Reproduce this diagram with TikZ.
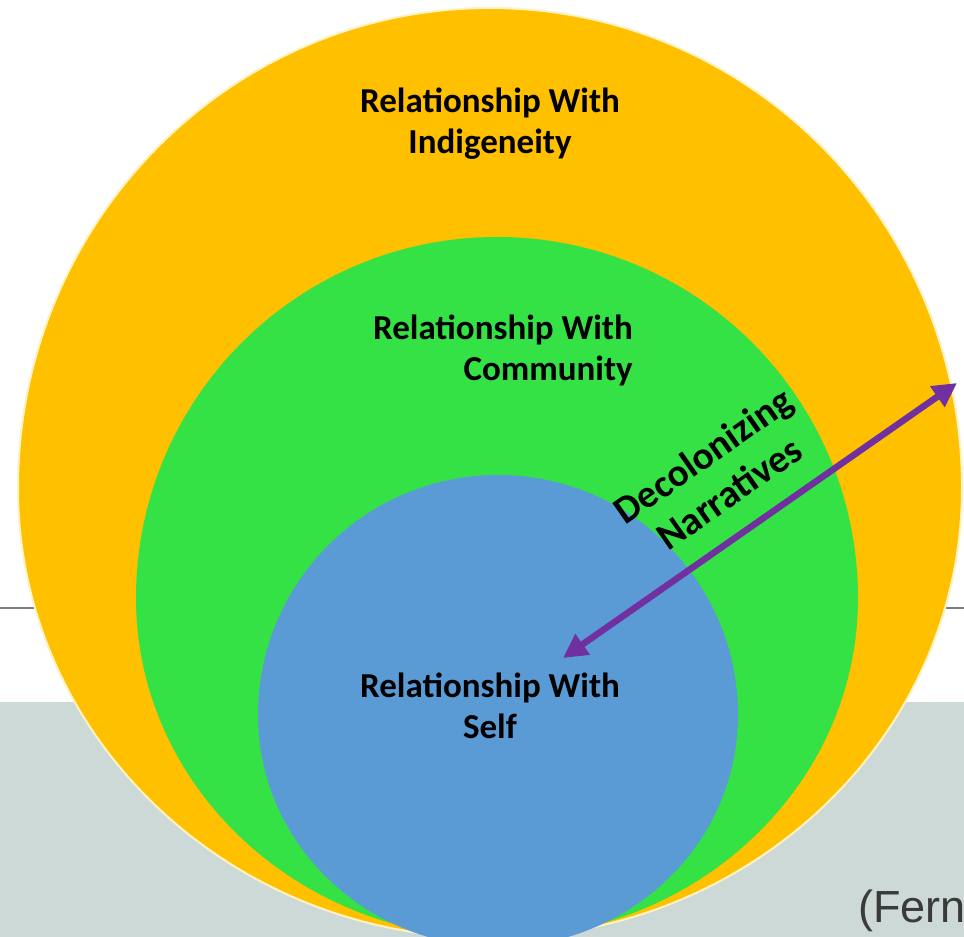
\documentclass[tikz,border=0pt]{standalone}
\usepackage{fontspec}
\setmainfont{Carlito}
\newfontfamily\citefont{Liberation Sans}
\usetikzlibrary{arrows.meta}
\definecolor{ringorange}{HTML}{FFC000}
\definecolor{ringgreen}{HTML}{35E245}
\definecolor{ringblue}{HTML}{5B9BD5}
\definecolor{bandgray}{HTML}{CCD9D6}
\definecolor{arrowpurple}{HTML}{7030A0}
\definecolor{rulegray}{HTML}{7F7F7F}
\definecolor{fringe}{HTML}{FFF3C4}
\definecolor{citegray}{HTML}{3A3A3A}

\begin{document}
\begin{tikzpicture}[x=1pt,y=1pt,
  ringtext/.style={font=\bfseries\fontsize{35}{41}\selectfont, text=black, inner sep=0pt, align=center},
  citetext/.style={font=\citefont\fontsize{45}{50}\selectfont, text=citegray, inner sep=0pt},
  duotip/.style={line width=6.5pt, draw=arrowpurple,
    {Triangle[length=24pt,width=24pt]}-{Triangle[length=24pt,width=24pt]}}]
\useasboundingbox (0,0) rectangle (964,937);
\clip (0,0) rectangle (964,937);
% page background: white above, grey band below, thin rule
\fill[white] (0,0) rectangle (964,937);
\fill[bandgray] (0,0) rectangle (964,235);
\draw[rulegray, line width=2pt] (0,329) -- (964,329);
% outer ring: indigeneity
\filldraw[fill=ringorange, draw=fringe, line width=2pt]
  (18,449) arc[start angle=180, end angle=0, x radius=472pt, y radius=480pt]
           arc[start angle=0, end angle=-180, x radius=472pt, y radius=450pt] -- cycle;
% middle ring: community
\fill[ringgreen]
  (136,339) arc[start angle=180, end angle=0, x radius=361pt, y radius=361pt]
            arc[start angle=0, end angle=-180, x radius=361pt, y radius=340pt] -- cycle;
% inner disc: self
\fill[ringblue]
  (258,222) arc[start angle=180, end angle=0, x radius=240pt, y radius=240pt]
            arc[start angle=0, end angle=-180, x radius=240pt, y radius=232pt] -- cycle;
% labels
\node[ringtext] (indig) at (490,813) {Relationship With\\Indigeneity};
\node[ringtext, align=right, anchor=east] (comm) at (633,587) {Relationship With\\Community};
\node[ringtext] (self) at (490,231) {Relationship With\\Self};
\node[ringtext, rotate=35, font=\bfseries\fontsize{39}{46}\selectfont] (decol) at (716,463) {Decolonizing\\Narratives};
% double-headed arrow between self and the outer ring
\coordinate (inner) at (563,279);
\coordinate (outer) at (957,554);
\draw[duotip] (inner) -- (outer);
% citation
\node[citetext, anchor=base west] (cite) at (858,14) {(Fern};
\end{tikzpicture}
\end{document}
